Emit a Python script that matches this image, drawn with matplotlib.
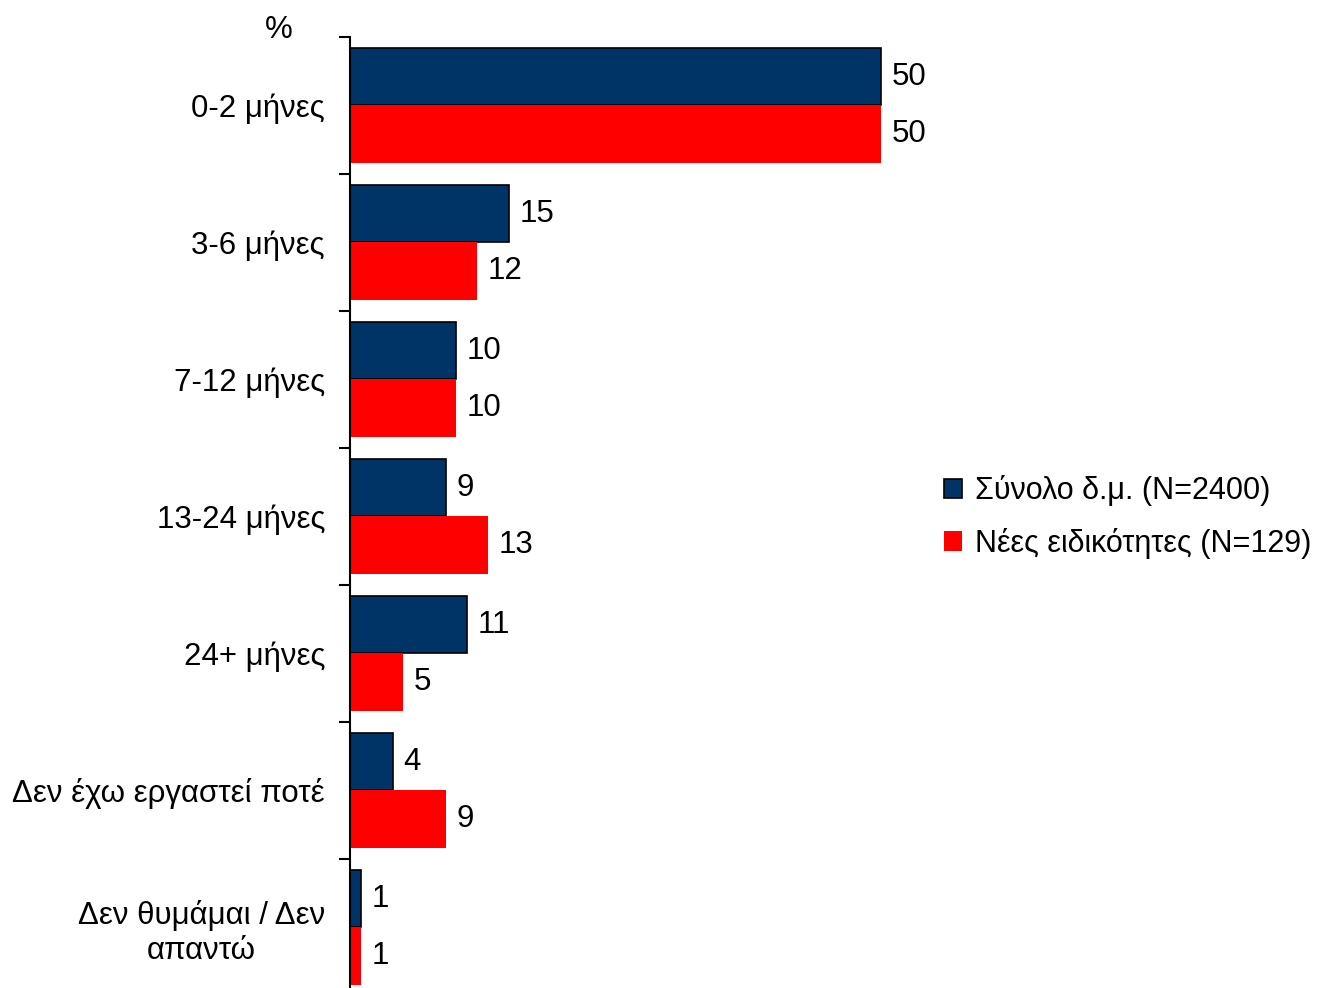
import matplotlib.pyplot as plt
import numpy as np

plt.rcParams['font.family'] = ['Liberation Sans', 'DejaVu Sans']

categories = ['0-2 μήνες', '3-6 μήνες', '7-12 μήνες', '13-24 μήνες', '24+ μήνες',
              'Δεν έχω εργαστεί ποτέ', 'Δεν θυμάμαι / Δεν\nαπαντώ']
total = [50, 15, 10, 9, 11, 4, 1]
new_spec = [50, 12, 10, 13, 5, 9, 1]
series_names = ['Σύνολο δ.μ. (N=2400)', 'Νέες ειδικότητες (N=129)']

navy = '#003366'
red = '#ff0000'
fs = 22.5

fig = plt.figure(figsize=(13.19, 9.88), dpi=100)
ax = fig.add_axes([0.2654, -0.008, 0.483, 0.9706])

y = np.arange(len(categories))
h = 0.42
b1 = ax.barh(y - h / 2, total, height=h, color=navy, edgecolor='black', linewidth=1.2,
             label=series_names[0])
b2 = ax.barh(y + h / 2, new_spec, height=h, color=red, edgecolor='none',
             label=series_names[1])

for bars, vals in ((b1, total), (b2, new_spec)):
    for bar, v in zip(bars, vals):
        ax.text(v + 1.0, bar.get_y() + bar.get_height() / 2, str(v),
                va='center', ha='left', fontsize=fs)

ax.set_xlim(0, 60)
ax.set_ylim(len(categories) - 0.5, -0.5)

ax.set_yticks(y)
ax.set_yticklabels(categories, fontsize=fs, multialignment='center')
ax.tick_params(axis='y', which='major', length=0, pad=18)
ax.set_yticks(np.arange(len(categories) + 1) - 0.5, minor=True)
ax.tick_params(axis='y', which='minor', length=8, width=1.5)
ax.set_xticks([])

for s in ('top', 'right', 'bottom'):
    ax.spines[s].set_visible(False)
ax.spines['left'].set_linewidth(1.5)

fig.text(279 / 1319, 1 - 30 / 988, '%', fontsize=fs, ha='center', va='center')

fig.legend(handles=[b1, b2], loc='center left', bbox_to_anchor=(944 / 1319, 1 - 517 / 988),
           frameon=False, fontsize=22, handlelength=0.6, handleheight=0.6,
           handletextpad=0.4, labelspacing=0.7, borderpad=0, borderaxespad=0)

fig.savefig('out.png', dpi=100)
